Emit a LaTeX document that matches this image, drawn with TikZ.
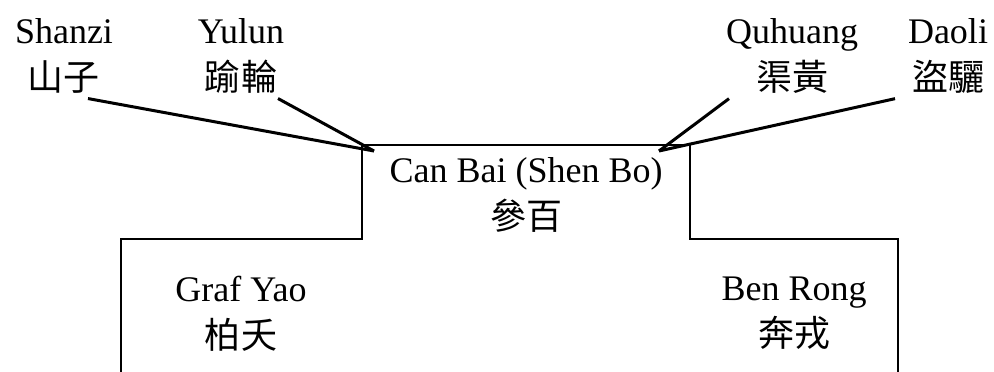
\documentclass[tikz,border=0pt]{standalone}
\usepackage{fontspec}
\setmainfont{Liberation Serif}
\newfontfamily\cjk{Noto Sans CJK TC}
\usetikzlibrary{positioning,calc}

\begin{document}
\begin{tikzpicture}[x=0.3333pt, y=-0.3333pt]
    % Styles
    \tikzstyle{horsename} = [align=center, anchor=north, inner sep=0pt, font=\fontsize{12}{15.5}\selectfont]
    \tikzstyle{pointer} = [line width=1pt]
    \tikzstyle{outline} = [line width=0.65pt]

    \useasboundingbox (0,0) rectangle (994,372);

    % Outer horses
    \node[horsename] (shanzi) at (64,18) {Shanzi\\{\cjk 山子}};
    \node[horsename] (yulun) at (241,18) {Yulun\\{\cjk 踰輪}};
    \node[horsename] (quhuang) at (792,18) {Quhuang\\{\cjk 渠黃}};
    \node[horsename] (daoli) at (948,18) {Daoli\\{\cjk 盜驪}};

    % Inner horses
    \node[horsename] (canbai) at (526,157) {Can Bai (Shen Bo)\\{\cjk 參百}};
    \node[horsename] (grafyao) at (241,276) {Graf Yao\\{\cjk 柏夭}};
    \node[horsename] (benrong) at (794,276) {Ben Rong\\{\cjk 奔戎}};

    % Corners of the top box
    \coordinate (tipL) at (374,151);
    \coordinate (tipR) at (659,151);

    % Outline
    \draw[outline] (121,372) -- (121,239) -- (362,239) -- (362,145)
        -- (690,145) -- (690,239) -- (898,239) -- (898,372);

    % Lines
    \draw[pointer] ($(shanzi.south)+(24,5)$) -- (tipL);
    \draw[pointer] ($(yulun.south)+(37,5)$) -- (tipL);
    \draw[pointer] ($(quhuang.south)+(-63,5)$) -- (tipR);
    \draw[pointer] ($(daoli.south)+(-53,5)$) -- (tipR);
\end{tikzpicture}
\end{document}
